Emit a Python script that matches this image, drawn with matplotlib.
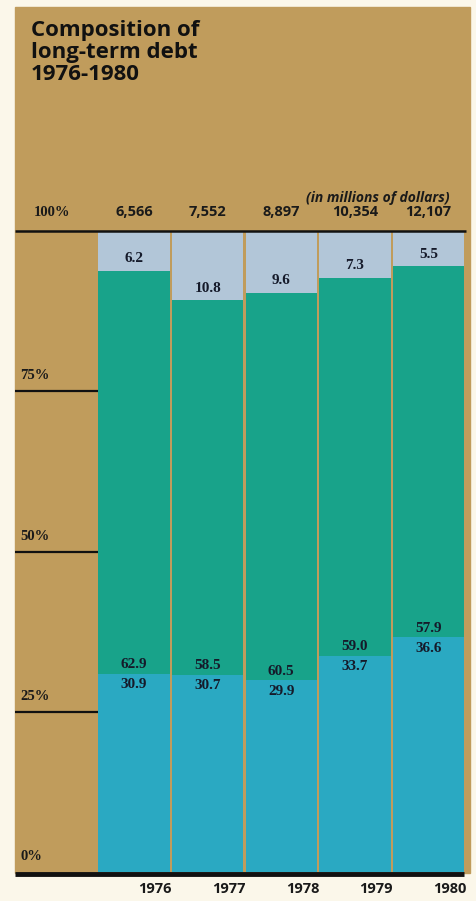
"""
Composition of long-term debt, 1976-1980
"""

import matplotlib
matplotlib.use("Agg")
import matplotlib.pyplot as plt
from matplotlib.patches import Rectangle

years = ["1976", "1977", "1978", "1979", "1980"]
totals = ["6,566", "7,552", "8,897", "10,354", "12,107"]
bottom_vals = [30.9, 30.7, 29.9, 33.7, 36.6]
middle_vals = [62.9, 58.5, 60.5, 59.0, 57.9]
top_vals = [6.2, 10.8, 9.6, 7.3, 5.5]
pct_ticks = [25, 50, 75]

W, H = 477, 901
TAN = "#c09c5c"
PAPER = "#fbf7ea"
C_BOT = "#2aa9c2"
C_MID = "#18a38a"
C_TOP = "#b2c6d8"
SERIF = ["Liberation Serif", "DejaVu Serif"]
SANS = ["Open Sans", "DejaVu Sans"]


def fx(x):
    return x / W


def fy(y):
    return 1 - y / H


fig = plt.figure(figsize=(W / 100, H / 100), dpi=100, facecolor=PAPER)
fig.patches.append(Rectangle((fx(15), fy(873)), fx(455), 866 / H,
                             transform=fig.transFigure, color=TAN, zorder=-5))

ax = fig.add_axes([fx(15), fy(872), fx(453), 641 / H])
ax.set_zorder(2)
ax.set_facecolor("none")
step = 73.6
ax.set_xlim(-(134 - 15) / step, 4 + (468 - 428.5) / step)
ax.set_ylim(0, 100)
ax.axis("off")

x = list(range(len(years)))
width = 0.97
mid_base = bottom_vals
top_base = [b + m for b, m in zip(bottom_vals, middle_vals)]
ax.bar(x, bottom_vals, width, color=C_BOT, zorder=2)
ax.bar(x, middle_vals, width, bottom=mid_base, color=C_MID, zorder=2)
ax.bar(x, top_vals, width, bottom=top_base, color=C_TOP, zorder=2)

lbl = dict(ha="center", fontsize=11, fontweight="bold", family=SERIF,
           color="#151a2a", zorder=4)
for i in x:
    ax.annotate(f"{bottom_vals[i]:.1f}", (i, bottom_vals[i]), xytext=(0, -3),
                textcoords="offset points", va="top", **lbl)
    ax.annotate(f"{middle_vals[i]:.1f}", (i, bottom_vals[i]), xytext=(0, 2),
                textcoords="offset points", va="bottom", **lbl)
    ax.annotate(f"{top_vals[i]:.1f}", (i, top_base[i]), xytext=(0, 4),
                textcoords="offset points", va="bottom", **lbl)
    ax.text(i, 101.8, totals[i], ha="center", va="bottom", fontsize=10.5,
            fontweight="bold", family=SANS, color="#1a1a1a")
    ax.text(i + width / 2 + 0.03, -1.5, years[i], ha="right", va="top",
            fontsize=10.5, fontweight="bold", family=SANS, color="#1a1a1a")

# horizontal guides
left = ax.get_xlim()[0]
for p in pct_ticks:
    ax.plot([left, -width / 2], [p, p], color="#111111", lw=1.6,
            solid_capstyle="butt", zorder=3, clip_on=False)
    ax.text(left + 0.07, p + 1.4, f"{p}%", ha="left", va="bottom",
            fontsize=10.5, fontweight="bold", family=SERIF, color="#1a1a1a")
ax.plot([left, 4 + width / 2 + 0.02], [100, 100], color="#111111", lw=1.8,
        solid_capstyle="butt", zorder=3, clip_on=False)
ax.plot([left, 4 + width / 2], [-0.3, -0.3], color="#111111", lw=3.5,
        solid_capstyle="butt", zorder=3, clip_on=False)
ax.text(left + 0.25, 101.8, "100%", ha="left", va="bottom", fontsize=10.5,
        fontweight="bold", family=SERIF, color="#1a1a1a")
ax.text(left + 0.07, 1.4, "0%", ha="left", va="bottom", fontsize=10.5,
        fontweight="bold", family=SERIF, color="#1a1a1a")

fig.text(fx(450), fy(198), "(in millions of dollars)", ha="right", va="center",
         fontsize=10, fontweight="bold", style="italic", family=SANS,
         color="#1a1a1a")
fig.text(fx(31), fy(20), "Composition of\nlong-term debt\n1976-1980",
         ha="left", va="top", fontsize=16, fontweight="bold", family=SANS,
         color="#111111", linespacing=1.05)

fig.savefig("out.png", dpi=100, facecolor=PAPER)
